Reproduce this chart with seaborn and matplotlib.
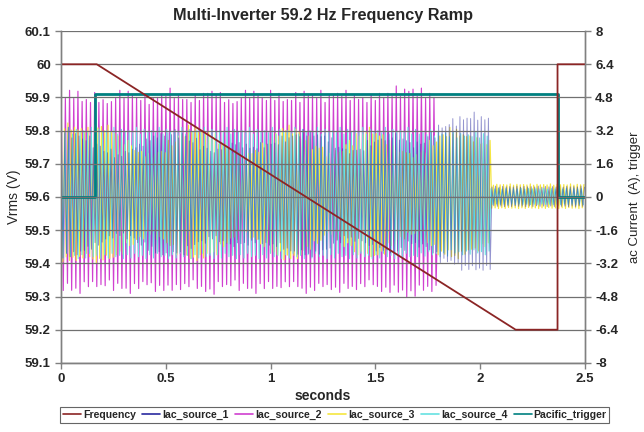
import numpy as np
import pandas as pd
import seaborn as sns
import matplotlib
matplotlib.use('Agg')
import matplotlib.pyplot as plt

# Frequency (left axis, Hz)
freq_t = [0.0, 0.17, 2.17, 2.37, 2.37, 2.5]
freq_hz = [60.0, 60.0, 59.2, 59.2, 60.0, 60.0]

# Pacific trigger (right axis)
trig_t = [0.0, 0.16, 0.16, 2.37, 2.37, 2.5]
trig_val = [0.0, 0.0, 4.96, 4.96, 0.0, 0.0]

# current peak envelopes (A), one value per 0.05 s segment
env_src1 = [3.2, 3.0, 2.8, 2.5, 2.2, 2.0, 2.2, 2.5, 2.8, 3.0,
            3.1, 3.0, 2.7, 2.4, 2.2, 2.4, 2.6, 2.5, 2.4, 2.5,
            2.6, 2.8, 3.0, 3.1, 3.0, 2.8, 2.4, 2.2, 2.3, 2.6,
            2.8, 3.0, 2.8, 2.5, 2.6, 3.0, 3.4, 3.6, 3.8, 3.9,
            3.8, 0.5, 0.5, 0.5, 0.5, 0.5, 0.5, 0.5, 0.5, 0.5]
env_src2 = [4.9, 5.0, 4.7, 4.8, 4.6, 4.9, 5.0, 4.8, 4.7, 4.9,
            5.0, 4.8, 4.7, 4.9, 5.1, 4.8, 4.6, 4.9, 5.0, 4.8,
            4.9, 4.7, 4.8, 5.0, 4.9, 4.8, 5.0, 4.9, 4.8, 4.7,
            4.9, 5.0, 5.1, 5.2, 5.0, 4.9, 0.0, 0.0, 0.0, 0.0,
            0.0, 0.0, 0.0, 0.0, 0.0, 0.0, 0.0, 0.0, 0.0, 0.0]
env_src3 = [3.4, 3.3, 3.2, 3.4, 3.3, 3.0, 2.6, 2.2, 2.0, 2.2,
            2.6, 3.0, 3.3, 3.2, 3.0, 2.6, 2.2, 2.0, 2.2, 2.6,
            3.0, 3.3, 3.2, 2.8, 2.4, 2.0, 2.2, 2.6, 3.0, 3.2,
            3.0, 2.6, 2.2, 2.0, 2.2, 2.6, 3.0, 3.2, 3.0, 2.8,
            2.6, 0.6, 0.6, 0.6, 0.6, 0.6, 0.6, 0.6, 0.6, 0.6]
env_src4 = [3.2, 3.2, 3.2, 3.2, 3.2, 3.2, 3.2, 3.2, 3.2, 3.2,
            3.2, 3.2, 3.2, 3.2, 3.2, 3.2, 3.2, 3.2, 3.2, 3.2,
            3.2, 3.2, 3.2, 3.2, 3.2, 3.2, 3.2, 3.2, 3.2, 3.2,
            3.2, 3.2, 3.2, 3.2, 3.1, 3.1, 3.1, 3.0, 3.0, 3.0,
            3.0, 0.4, 0.4, 0.4, 0.4, 0.4, 0.4, 0.4, 0.4, 0.4]

# relative spike heights (ragged tops of the waveform)
spike_scale = [1.0, 0.92, 0.97, 0.85, 1.05, 0.9, 0.95, 0.88, 1.02, 0.93, 0.98, 0.87]

seg_len = 0.05


def waveform(env, half_period):
    t = np.arange(0, 2.5 + 1e-9, half_period)
    seg = np.minimum(((t + 1e-9) / seg_len).astype(int), len(env) - 1)
    amp = np.asarray(env)[seg]
    sign = np.where(np.arange(len(t)) % 2 == 0, 1, -1)
    scale = np.resize(spike_scale, len(t))
    return pd.DataFrame({'t': t, 'i': sign * amp * scale})


sns.set_style('white')
plt.rcParams['font.family'] = ['Liberation Sans', 'DejaVu Sans']

fig = plt.figure(figsize=(6.44, 4.32), dpi=100)
ax = fig.add_axes([0.095, 0.16, 0.813, 0.768])
ax2 = ax.twinx()

# name, envelope, half period, colour, alpha, zorder, width
series = [('Iac_source_1', env_src1, 0.0085, '#2a2aa0', 0.5, 4, 0.7),
          ('Iac_source_2', env_src2, 0.0100, '#d040d0', 1.0, 1, 0.85),
          ('Iac_source_3', env_src3, 0.0080, '#f5e640', 1.0, 2, 0.85),
          ('Iac_source_4', env_src4, 0.0090, '#66e2e2', 1.0, 3, 0.75)]
for name, env, hp, col, al, z, w in series:
    df = waveform(env, hp)
    sns.lineplot(data=df, x='t', y='i', ax=ax2, color=col, lw=w, alpha=al,
                 estimator=None, sort=False, label=name, legend=False, zorder=z)

trig = pd.DataFrame({'t': trig_t, 'v': trig_val})
sns.lineplot(data=trig, x='t', y='v', ax=ax2, color='#008080', lw=2,
             estimator=None, sort=False, label='Pacific_trigger', legend=False, zorder=6)

fr = pd.DataFrame({'t': freq_t, 'f': freq_hz})
sns.lineplot(data=fr, x='t', y='f', ax=ax, color='#8b2525', lw=1.3,
             estimator=None, sort=False, label='Frequency', legend=False)

ax.set_zorder(ax2.get_zorder() + 1)
ax.patch.set_visible(False)

ax.set_xlim(0, 2.5)
ax.set_ylim(59.1, 60.1)
ax.set_yticks(np.round(np.arange(59.1, 60.11, 0.1), 1))
ax.set_yticklabels(['59.1', '59.2', '59.3', '59.4', '59.5', '59.6', '59.7', '59.8', '59.9', '60', '60.1'])
ax.set_xticks([0, 0.5, 1, 1.5, 2, 2.5])
ax.set_xticklabels(['0', '0.5', '1', '1.5', '2', '2.5'])
ax2.set_ylim(-8, 8)
ax2.set_yticks([-8, -6.4, -4.8, -3.2, -1.6, 0, 1.6, 3.2, 4.8, 6.4, 8])
ax2.set_yticklabels(['-8', '-6.4', '-4.8', '-3.2', '-1.6', '0', '1.6', '3.2', '4.8', '6.4', '8'])

ax.yaxis.grid(True, color='#707070', lw=0.9)
ax.xaxis.grid(False)
for a in (ax, ax2):
    for s in a.spines.values():
        s.set_color('#808080')
        s.set_linewidth(1.0)
    a.spines['top'].set_visible(False)
    a.tick_params(labelsize=9.5, length=4, color='#808080', width=1)
for lbl in ax.get_xticklabels() + ax.get_yticklabels() + ax2.get_yticklabels():
    lbl.set_fontweight('bold')
ax.tick_params(axis='both', direction='out', left=True, bottom=True)
ax2.tick_params(axis='y', direction='out', right=True)

ax.set_xlabel('seconds', fontsize=10, fontweight='bold', labelpad=3)
ax.set_ylabel('Vrms (V)', fontsize=10, labelpad=3)
ax2.set_ylabel('ac Current  (A), trigger', fontsize=9.5, labelpad=8)
ax.set_title('Multi-Inverter 59.2 Hz Frequency Ramp', fontsize=11.7, fontweight='bold', pad=8)

h1, l1 = ax.get_legend_handles_labels()
h2, l2 = ax2.get_legend_handles_labels()
leg = fig.legend(h1 + h2, l1 + l2, ncol=6, loc='center', bbox_to_anchor=(0.52, 0.039),
                 fontsize=7.6, frameon=True, fancybox=False, handlelength=1.7,
                 columnspacing=0.6, handletextpad=0.2, borderpad=0.25, borderaxespad=0)
leg.get_frame().set_edgecolor('#404040')
leg.get_frame().set_linewidth(0.8)
for txt in leg.get_texts():
    txt.set_fontweight('bold')
for h in leg.legend_handles:
    h.set_linewidth(1.2)
    h.set_alpha(1.0)

fig.savefig('out.png', dpi=100)
